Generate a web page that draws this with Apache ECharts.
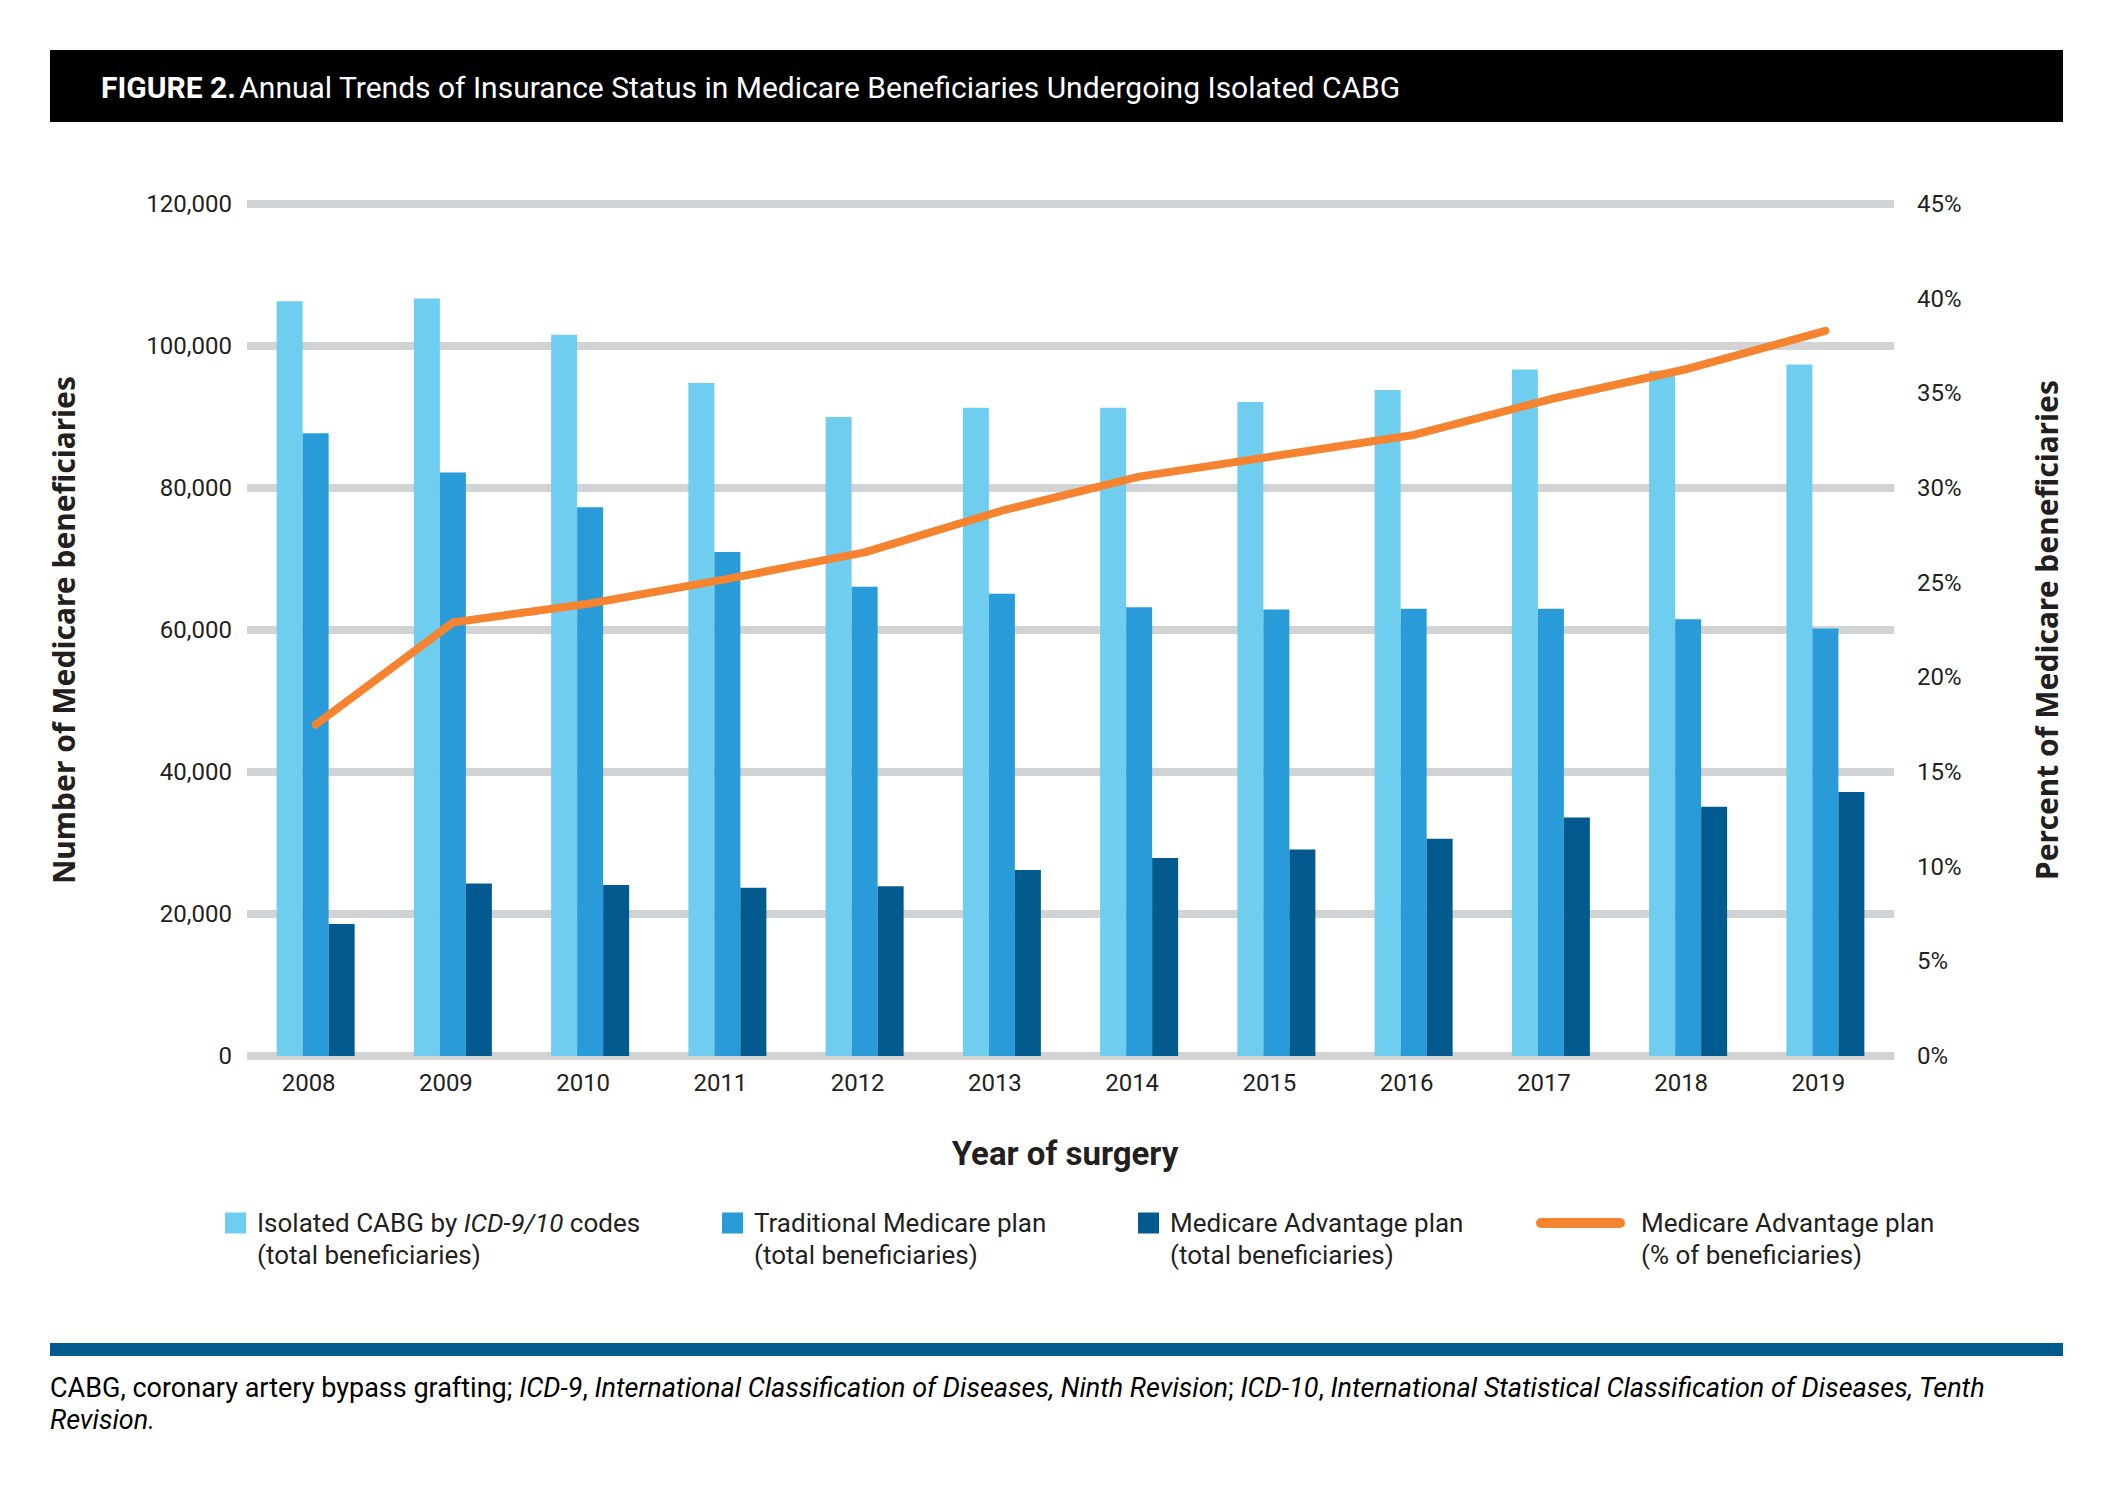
<!DOCTYPE html>
<html>
<head>
<meta charset="utf-8">
<script src="https://cdn.jsdelivr.net/npm/echarts@6/dist/echarts.min.js"></script>
<style>
  html, body { margin: 0; padding: 0; background: #fff; }
  #chart { width: 2113px; height: 1496px; }
</style>
</head>
<body>
<div id="chart"></div>
<script>
// ---- Data ----
const years = ['2008', '2009', '2010', '2011', '2012', '2013', '2014', '2015', '2016', '2017', '2018', '2019'];
const isolatedCabg = [106300, 106700, 101600, 94800, 90000, 91300, 91300, 92100, 93800, 96700, 96500, 97400];
const traditionalMedicare = [87700, 82200, 77300, 71000, 66100, 65100, 63200, 62900, 63000, 63000, 61500, 60200];
const medicareAdvantage = [18600, 24300, 24100, 23700, 23900, 26200, 27900, 29100, 30600, 33600, 35100, 37200];
const medicareAdvantagePct = [17.5, 22.9, 23.9, 25.2, 26.6, 28.8, 30.6, 31.7, 32.8, 34.7, 36.3, 38.3];

const seriesNames = [
  'Isolated CABG by ICD-9/10 codes (total beneficiaries)',
  'Traditional Medicare plan (total beneficiaries)',
  'Medicare Advantage plan (total beneficiaries)',
  'Medicare Advantage plan (% of beneficiaries)'
];
const legendLines = [
  ['{f|Isolated CABG by }{i|ICD-9/10}{n| codes}', '{f|(total beneficiaries)}'],
  ['{f|Traditional Medicare plan}', '{f|(total beneficiaries)}'],
  ['{f|Medicare Advantage plan}', '{f|(total beneficiaries)}'],
  ['{f|Medicare Advantage plan}', '{f|(% of beneficiaries)}']
];
const leftAxisTitle = 'Number of Medicare beneficiaries';
const rightAxisTitle = 'Percent of Medicare beneficiaries';
const xAxisTitle = 'Year of surgery';

// ---- Styles ----
const TXT = '#231f20';
const DIN = "Roboto, 'Open Sans', sans-serif";
const colors = ['#6fcdef', '#289bd8', '#035a8f', '#f5832f'];

const chart = echarts.init(document.getElementById('chart'), null, { renderer: 'svg' });

const LFS = 26;
const richLegend = {
  s: { fontFamily: DIN, fontSize: LFS, lineHeight: 32, color: TXT },
  f: { fontFamily: DIN, fontSize: LFS, lineHeight: 32, color: TXT, padding: [0, 0, 0, 6] },
  n: { fontFamily: DIN, fontSize: LFS, lineHeight: 32, color: TXT },
  i: { fontFamily: DIN, fontSize: LFS, lineHeight: 32, color: TXT, fontStyle: 'italic' }
};
const legendLeft = [225, 722, 1138, 1536];

const legends = seriesNames.map((name, k) => {
  const isLine = k === 3;
  return {
    data: [name],
    left: legendLeft[k],
    top: 1178,
    padding: 0,
    selectedMode: false,
    itemWidth: isLine ? 89 : 21,
    itemHeight: isLine ? 10 : 21,
    icon: isLine ? 'path://M5,0 H84 A5,5 0 0 1 84,10 H5 A5,5 0 0 1 5,0 Z' : 'rect',
    itemStyle: { color: colors[k], borderWidth: 0 },
    formatter: () => '{s| }\n' + legendLines[k][0] + '\n' + legendLines[k][1],
    textStyle: { rich: richLegend, padding: isLine ? [0, 0, 0, 5] : 0 }
  };
});

const option = {
  backgroundColor: '#ffffff',
  animation: false,
  textStyle: { fontFamily: DIN, color: TXT },
  grid: { left: 247, right: 219, top: 204, bottom: 440, containLabel: false },
  legend: legends,
  xAxis: {
    type: 'category',
    data: years,
    axisLine: { show: false },
    axisTick: { show: false },
    axisLabel: { fontFamily: DIN, fontSize: 24, color: TXT, margin: 15, padding: [0, 14, 0, 0] }
  },
  yAxis: [
    {
      type: 'value', min: 0, max: 120000, interval: 20000,
      axisLine: { show: false }, axisTick: { show: false },
      splitLine: { lineStyle: { color: '#d1d3d4', width: 8 } },
      axisLabel: {
        fontFamily: DIN, fontSize: 24, color: TXT, margin: 15,
        formatter: v => v.toLocaleString('en-US')
      }
    },
    {
      type: 'value', min: 0, max: 45, interval: 5, position: 'right',
      axisLine: { show: false }, axisTick: { show: false },
      splitLine: { show: false },
      axisLabel: { fontFamily: DIN, fontSize: 24, color: TXT, margin: 23, formatter: '{value}%' }
    }
  ],
  series: [
    { name: seriesNames[0], type: 'bar', data: isolatedCabg, barWidth: 26, barGap: '0%', itemStyle: { color: colors[0] } },
    { name: seriesNames[1], type: 'bar', data: traditionalMedicare, barWidth: 26, barGap: '0%', itemStyle: { color: colors[1] } },
    { name: seriesNames[2], type: 'bar', data: medicareAdvantage, barWidth: 26, barGap: '0%', itemStyle: { color: colors[2] } },
    {
      name: seriesNames[3], type: 'line', yAxisIndex: 1, data: medicareAdvantagePct,
      symbol: 'none', z: 5,
      itemStyle: { color: colors[3] },
      lineStyle: { color: colors[3], width: 8, cap: 'round', join: 'round' }
    }
  ],
  graphic: [
    { type: 'rect', shape: { x: 50, y: 50, width: 2013, height: 72 }, style: { fill: '#000000' }, silent: true },
    {
      type: 'text', x: 101, y: 87, silent: true,
      style: {
        text: '{b|FIGURE 2.} {t|Annual Trends of Insurance Status in Medicare Beneficiaries Undergoing Isolated CABG}',
        verticalAlign: 'middle',
        rich: {
          b: { fontFamily: DIN, fontWeight: 'bold', fontSize: 30, fill: '#ffffff', color: '#ffffff' },
          t: { fontFamily: DIN, fontSize: 30, fill: '#ffffff', color: '#ffffff' }
        }
      }
    },
    {
      type: 'text', x: 63, y: 630, rotation: Math.PI / 2, silent: true,
      style: { text: leftAxisTitle, fontFamily: "'Noto Sans', sans-serif", fontWeight: 'bold', fontSize: 30, fill: TXT, align: 'center', verticalAlign: 'middle' }
    },
    {
      type: 'text', x: 2046, y: 630, rotation: Math.PI / 2, silent: true,
      style: { text: rightAxisTitle, fontFamily: "'Noto Sans', sans-serif", fontWeight: 'bold', fontSize: 30, fill: TXT, align: 'center', verticalAlign: 'middle' }
    },
    {
      type: 'text', x: 1065, y: 1153, silent: true,
      style: { text: xAxisTitle, fontFamily: DIN, fontWeight: 'bold', fontSize: 33, fill: TXT, align: 'center', verticalAlign: 'middle' }
    },
    { type: 'rect', shape: { x: 50, y: 1343, width: 2013, height: 13 }, style: { fill: '#035a8f' }, silent: true },
    {
      type: 'text', x: 50, y: 1372, silent: true,
      style: {
        text: '{n|CABG, coronary artery bypass grafting; }{i|ICD-9}{n|, }{i|International Classification of Diseases, Ninth Revision}{n|; }{i|ICD-10}{n|, }{i|International Statistical Classification of Diseases, Tenth}\n{i|Revision.}',
        verticalAlign: 'top',
        rich: {
          n: { fontFamily: DIN, fontSize: 27, lineHeight: 32, color: '#333333' },
          i: { fontFamily: DIN, fontSize: 27, lineHeight: 32, color: '#333333', fontStyle: 'italic' }
        }
      }
    }
  ]
};

chart.setOption(option);
</script>
</body>
</html>
